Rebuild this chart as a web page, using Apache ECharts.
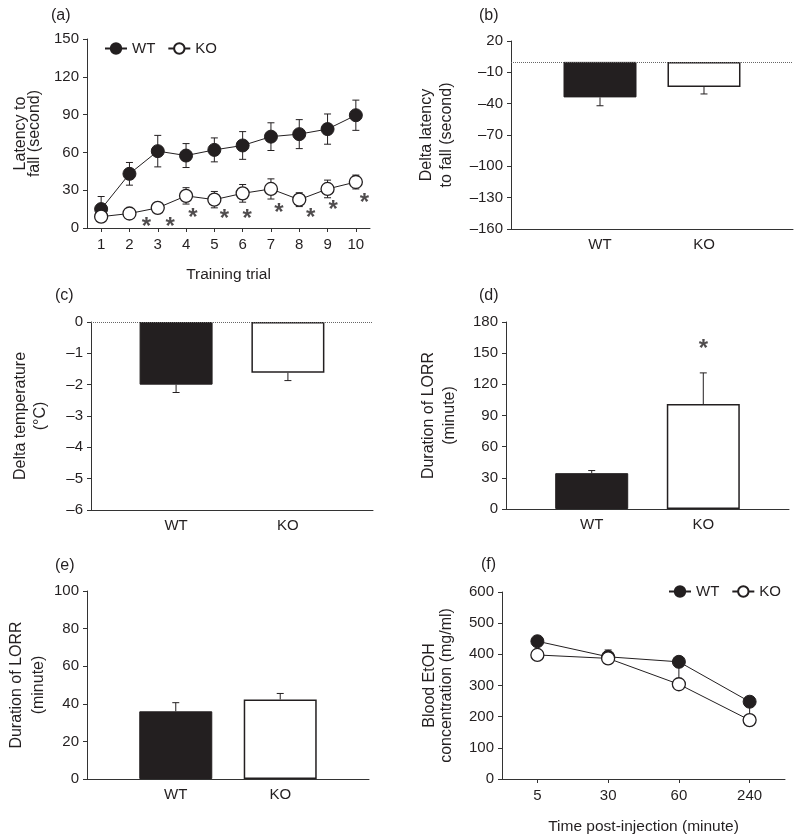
<!DOCTYPE html>
<html>
<head>
<meta charset="utf-8">
<script src="https://cdn.jsdelivr.net/npm/echarts@6/dist/echarts.min.js"></script>
</head>
<body style="margin:0;background:#fff">
<div id="container" style="width:800px;height:839px"></div>
<script>
var groups = ['WT', 'KO'];

// (a) rotarod training
var trials = ['1', '2', '3', '4', '5', '6', '7', '8', '9', '10'];
var wtLatency = [15, 43, 61, 57.5, 62, 65.5, 72.5, 74.5, 78.5, 89.5];
var wtLatencyErr = [10, 9, 12.5, 9.5, 9.5, 11, 11, 11.5, 12, 12];
var koLatency = [9, 11.5, 16, 25.5, 22.5, 27.5, 31, 22.5, 31, 36.5];
var koLatencyErr = [3, 2, 3, 6.5, 6.5, 7, 8, 5.5, 7, 5.5];
var starTrialX = [2.6, 3.44, 4.24, 5.36, 6.16, 7.28, 8.4, 9.2, 10.3];
var starTrialY = [5, 5, 12.7, 12, 11.9, 16.7, 12.7, 19, 24.6];

// (b) delta latency to fall
var deltaLatency = [-34, -24];
var deltaLatencyErr = [8, 6.7];
// (c) delta temperature
var deltaTemp = [-2.0, -1.62];
var deltaTempErr = [0.25, 0.25];
// (d) duration of LORR
var lorrD = [34.5, 101];
var lorrDErr = [2.5, 30];
var starD = 159;
// (e) duration of LORR
var lorrE = [36, 42.3];
var lorrEErr = [4.6, 3.2];
// (f) blood EtOH
var times = ['5', '30', '60', '240'];
var wtEtoh = [442, 392, 376, 248];
var wtEtohErr = [0, 22, -58, -43];
var koEtoh = [398, 387, 304, 189];
var koEtohErr = [0, 0, 0, 0];

var ink = '#231f20';
var font = 'Liberation Sans';
var myChart = echarts.init(document.getElementById('container'));

function yAx(grid, min, max, interval, name, gap, lh, custom) {
    var ax = {
        type: 'value', gridIndex: grid, min: min, max: max, interval: interval,
        name: name, nameLocation: 'middle', nameGap: gap, nameRotate: 90,
        nameTextStyle: {fontFamily: font, fontSize: 16, color: ink, lineHeight: lh},
        axisLine: {show: true, onZero: false, lineStyle: {color: '#333', width: 1}},
        axisTick: {show: true, length: 4, lineStyle: {color: '#333'}},
        axisLabel: {fontFamily: font, fontSize: 15, color: ink, margin: 8,
            formatter: function (v) { return String(v).replace('-', '\u2013'); }},
        splitLine: {show: false}
    };
    if (custom) {
        ax.axisLabel.customValues = custom;
        ax.axisTick.customValues = custom;
        delete ax.interval;
    }
    return ax;
}
function barX(grid, min, max) {
    return {
        type: 'value', gridIndex: grid, min: min, max: max,
        axisLine: {show: true, onZero: false, lineStyle: {color: '#333', width: 1}},
        axisTick: {show: false},
        axisLabel: {fontFamily: font, fontSize: 15, color: ink, margin: 8,
            customValues: [1, 2],
            formatter: function (v) { return groups[Math.round(v) - 1]; }},
        splitLine: {show: false}
    };
}
function catX(grid, cats, name, gap) {
    return {
        type: 'category', gridIndex: grid, data: cats, boundaryGap: true,
        name: name, nameLocation: 'middle', nameGap: gap,
        nameTextStyle: {fontFamily: font, fontSize: 15.5, color: ink},
        axisLine: {show: true, onZero: false, lineStyle: {color: '#333', width: 1}},
        axisTick: {show: true, alignWithLabel: true, length: 4, lineStyle: {color: '#333'}},
        axisLabel: {fontFamily: font, fontSize: 15, color: ink, margin: 9},
        splitLine: {show: false}
    };
}

// error bar: [x, from, to]; caps at "to" and optionally at "from"
function errRender(bothCaps) {
    return function (params, api) {
        var x = api.value(0);
        var p0 = api.coord([x, api.value(1)]);
        var p1 = api.coord([x, api.value(2)]);
        var c = 3.5;
        var kids = [{type: 'line', shape: {x1: p0[0], y1: p0[1], x2: p1[0], y2: p1[1]},
            style: {stroke: ink, lineWidth: 1}},
            {type: 'line', shape: {x1: p1[0] - c, y1: p1[1], x2: p1[0] + c, y2: p1[1]},
            style: {stroke: ink, lineWidth: 1}}];
        if (bothCaps) {
            kids.push({type: 'line', shape: {x1: p0[0] - c, y1: p0[1], x2: p0[0] + c, y2: p0[1]},
                style: {stroke: ink, lineWidth: 1}});
        }
        return {type: 'group', children: kids};
    };
}
function symErr(vals, errs) {
    return vals.map(function (v, i) { return [i, v - errs[i], v + errs[i]]; });
}
function barErr(vals, errs) {
    return vals.map(function (v, i) {
        return [i + 1, v, v + (v < 0 ? -errs[i] : errs[i])];
    });
}
function dirErr(vals, errs) {
    return vals.map(function (v, i) { return [i, v, v + errs[i]]; });
}
function barData(vals) {
    return vals.map(function (v, i) {
        return {value: [i + 1, v], itemStyle: i === 0
            ? {color: ink, borderColor: ink, borderWidth: 1}
            : {color: '#fff', borderColor: ink, borderWidth: 1.5}};
    });
}
function barSeries(xi, yi, vals, errs, zeroLine) {
    var s = [{
        type: 'bar', xAxisIndex: xi, yAxisIndex: yi, barWidth: 73,
        data: barData(vals), z: 3, silent: true
    }, {
        type: 'custom', xAxisIndex: xi, yAxisIndex: yi, z: 2,
        renderItem: errRender(false), data: barErr(vals, errs), silent: true
    }];
    if (zeroLine) {
        s[0].markLine = {silent: true, symbol: ['none', 'none'], label: {show: false},
            lineStyle: {type: 'dotted', color: '#666', width: 1}, data: [{yAxis: 0}]};
    }
    return s;
}
function starSeries(xi, yi, data) {
    return {type: 'scatter', xAxisIndex: xi, yAxisIndex: yi, symbolSize: 1, silent: true, z: 6,
        itemStyle: {color: 'transparent'},
        label: {show: true, position: 'inside', formatter: '*', offset: [0, 6],
            fontFamily: font, fontWeight: 'bold', fontSize: 24, color: ink},
        data: data};
}
var wtLineStyle = {
    type: 'line', symbol: 'circle', symbolSize: 13, z: 4,
    itemStyle: {color: ink, borderColor: ink, borderWidth: 1},
    lineStyle: {color: ink, width: 1}
};
var koLineStyle = {
    type: 'line', symbol: 'circle', symbolSize: 13, z: 5,
    itemStyle: {color: '#fff', borderColor: ink, borderWidth: 1.3},
    lineStyle: {color: ink, width: 1}
};
function lineSeries(base, name, xi, yi, data) {
    return Object.assign({}, base, {name: name, xAxisIndex: xi, yAxisIndex: yi, data: data, silent: true});
}

var titleStyle = {fontFamily: font, fontSize: 16, fontWeight: 'normal', color: ink};
var legendBase = {
    orient: 'horizontal', itemWidth: 22, itemHeight: 13, itemGap: 12,
    textStyle: {fontFamily: font, fontSize: 15, color: ink}, selectedMode: false,
    data: ['WT', 'KO']
};

var series = [
    lineSeries(wtLineStyle, 'WT', 0, 0, wtLatency),
    lineSeries(koLineStyle, 'KO', 0, 0, koLatency),
    {type: 'custom', xAxisIndex: 0, yAxisIndex: 0, z: 1, silent: true,
        renderItem: errRender(true), data: symErr(wtLatency, wtLatencyErr)},
    {type: 'custom', xAxisIndex: 0, yAxisIndex: 0, z: 1, silent: true,
        renderItem: errRender(true), data: symErr(koLatency, koLatencyErr)},
    starSeries(1, 0, starTrialX.map(function (x, i) { return [x, starTrialY[i]]; }))
];
series = series.concat(barSeries(2, 1, deltaLatency, deltaLatencyErr, true));
series = series.concat(barSeries(3, 2, deltaTemp, deltaTempErr, true));
series = series.concat(barSeries(4, 3, lorrD, lorrDErr, false));
series.push(starSeries(4, 3, [[2, starD]]));
series = series.concat(barSeries(5, 4, lorrE, lorrEErr, false));
series.push(
    {type: 'custom', xAxisIndex: 6, yAxisIndex: 5, z: 1, silent: true,
        renderItem: errRender(false), data: dirErr(wtEtoh, wtEtohErr)},
    {type: 'custom', xAxisIndex: 6, yAxisIndex: 5, z: 1, silent: true,
        renderItem: errRender(false), data: dirErr(koEtoh, koEtohErr)},
    lineSeries(wtLineStyle, 'WT', 6, 5, wtEtoh),
    lineSeries(koLineStyle, 'KO', 6, 5, koEtoh)
);

var option = {
    animation: false,
    backgroundColor: '#fff',
    title: [
        {text: '(a)', left: 46, top: 3, textStyle: titleStyle},
        {text: '(b)', left: 474, top: 3, textStyle: titleStyle},
        {text: '(c)', left: 50, top: 283, textStyle: titleStyle},
        {text: '(d)', left: 474, top: 283, textStyle: titleStyle},
        {text: '(e)', left: 50, top: 553, textStyle: titleStyle},
        {text: '(f)', left: 476, top: 552, textStyle: titleStyle}
    ],
    legend: [
        Object.assign({}, legendBase, {left: 99, top: 36}),
        Object.assign({}, legendBase, {left: 663, top: 579})
    ],
    grid: [
        {left: 87, top: 39, width: 283, height: 189},
        {left: 511, top: 41, width: 282, height: 188},
        {left: 91, top: 322, width: 282, height: 188},
        {left: 506, top: 322, width: 283, height: 187},
        {left: 87, top: 591, width: 282, height: 188},
        {left: 502, top: 592, width: 283, height: 187}
    ],
    xAxis: [
        catX(0, trials, 'Training trial', 39),
        {type: 'value', gridIndex: 0, min: 0.5, max: 10.5, show: false},
        barX(1, 0.144, 2.856),
        barX(2, 0.239, 2.761),
        barX(3, 0.232, 2.768),
        barX(4, 0.15, 2.85),
        catX(5, times, 'Time post-injection (minute)', 40)
    ],
    yAxis: [
        yAx(0, 0, 150, 30, 'Latency to\nfall (second)', 45, 14),
        yAx(1, -160, 20, 30, 'Delta latency\nto fall (second)', 54, 20, [-160, -130, -100, -70, -40, -10, 20]),
        yAx(2, -6, 0, 1, 'Delta temperature\n(°C)', 40, 20),
        yAx(3, 0, 180, 30, 'Duration of LORR\n(minute)', 46, 21),
        yAx(4, 0, 100, 20, 'Duration of LORR\n(minute)', 36, 22),
        yAx(5, 0, 600, 100, 'Blood EtOH\nconcentration (mg/ml)', 47, 17)
    ],
    series: series
};

myChart.setOption(option, true);
</script>
</body>
</html>
